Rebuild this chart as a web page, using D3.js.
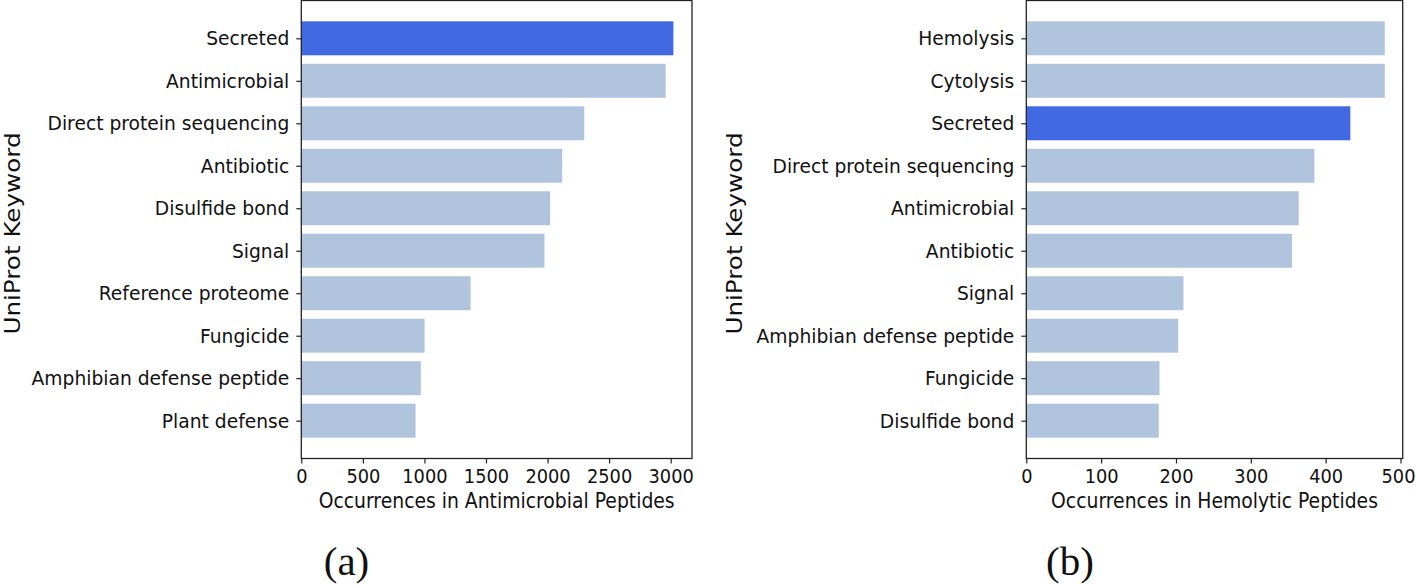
<!DOCTYPE html>
<html><head><meta charset="utf-8">
<script src="https://cdn.jsdelivr.net/npm/d3@7"></script>
<style>
html,body{margin:0;padding:0;background:#fff;}
svg{display:block;}
text{font-family:"DejaVu Sans",sans-serif;fill:#111;}
</style></head>
<body>
<svg id="chart" width="1416" height="585"></svg>
<script>
// Panel (a): Antimicrobial peptides
const amCategories = ["Secreted","Antimicrobial","Direct protein sequencing","Antibiotic","Disulfide bond","Signal","Reference proteome","Fungicide","Amphibian defense peptide","Plant defense"];
const amValues = [3022, 2959, 2298, 2119, 2021, 1975, 1375, 1001, 971, 928];
const amTicks = [0, 500, 1000, 1500, 2000, 2500, 3000];
// Panel (b): Hemolytic peptides
const hemCategories = ["Hemolysis","Cytolysis","Secreted","Direct protein sequencing","Antimicrobial","Antibiotic","Signal","Amphibian defense peptide","Fungicide","Disulfide bond"];
const hemValues = [479, 479, 433, 385, 364, 355, 210, 203, 178, 177];
const hemTicks = [0, 100, 200, 300, 400, 500];
const highlight = "Secreted";

const svg = d3.select("#chart");
const SY = 1.08; // vertical stretch of the reference's text
const W = 1416;

function panel(cfg){
  const {cats, vals, ticks, left, right, top, bottom, xTitle, panelLabel, yLabelX} = cfg;
  const g = svg.append("g");
  const x = d3.scaleLinear().domain([0, d3.max(vals)*1.05]).range([left, right]);
  const y = d3.scaleLinear().domain([-0.89, cats.length - 1 + 0.89]).range([top, bottom]);

  g.selectAll("rect.bar").data(cats).join("rect")
    .attr("class","bar")
    .attr("x", x(0))
    .attr("y", (d,i)=>y(i-0.4))
    .attr("width", (d,i)=>x(vals[i]) - x(0))
    .attr("height", (d,i)=>y(i+0.4)-y(i-0.4))
    .attr("fill", d => d === highlight ? "#4169E1" : "#B0C4DE");

  // frame
  g.append("rect").attr("x", left).attr("y", top).attr("width", right-left).attr("height", bottom-top)
    .attr("fill","none").attr("stroke","#222").attr("stroke-width",1.3);

  // x axis
  const xa = g.append("g").attr("transform",`translate(0,${bottom})`)
    .call(d3.axisBottom(x).tickValues(ticks).tickSize(5).tickPadding(6).tickFormat(d3.format("d")));
  xa.select(".domain").remove();
  xa.selectAll("line").attr("stroke","#222").attr("stroke-width",1.2);
  xa.selectAll("text").style("font-size","17.8px").attr("fill","#111")
    .attr("dy", null).attr("y", 11 + 13.5)
    .attr("transform", `translate(0,24.5) scale(1,${SY}) translate(0,-24.5)`)
    .each(function(d){
      // keep the last label inside the page edge
      const bb = this.getBBox();
      const rightEdge = x(d) + bb.x + bb.width;
      if (rightEdge > W - 1) d3.select(this).attr("x", (W - 1) - rightEdge);
    });

  // y axis
  const ya = g.append("g").attr("transform",`translate(${left},0)`)
    .call(d3.axisLeft(y).tickValues(d3.range(cats.length)).tickSize(5).tickPadding(7).tickFormat(i=>cats[i]));
  ya.select(".domain").remove();
  ya.selectAll("line").attr("stroke","#222").attr("stroke-width",1.2);
  ya.selectAll("text").style("font-size","18.7px").attr("fill","#111")
    .attr("transform", `scale(1,${SY})`);

  g.append("text")
    .attr("transform", `translate(${(left+right)/2},508) scale(1,${SY})`)
    .attr("text-anchor","middle").style("font-size","18.8px").text(xTitle);

  g.append("text").attr("transform",`translate(${yLabelX},${(top+bottom)/2 + 4}) scale(1,1.12) rotate(-90)`)
    .attr("text-anchor","middle").style("font-size","22px").text("UniProt Keyword");

  g.append("text").attr("x", cfg.labelX).attr("y", 575)
    .attr("text-anchor","middle")
    .style("font-family","'Liberation Serif','Times New Roman',serif")
    .style("font-size","41px").text(panelLabel);
}

panel({cats: amCategories, vals: amValues, ticks: amTicks, left: 301.3, right: 692, top: 0.5, bottom: 458.5,
  xTitle: "Occurrences in Antimicrobial Peptides", panelLabel: "(a)", yLabelX: 20, labelX: 346.5});
panel({cats: hemCategories, vals: hemValues, ticks: hemTicks, left: 1026.3, right: 1402.7, top: 0.5, bottom: 458.5,
  xTitle: "Occurrences in Hemolytic Peptides", panelLabel: "(b)", yLabelX: 742, labelX: 1070});
</script>
</body></html>
